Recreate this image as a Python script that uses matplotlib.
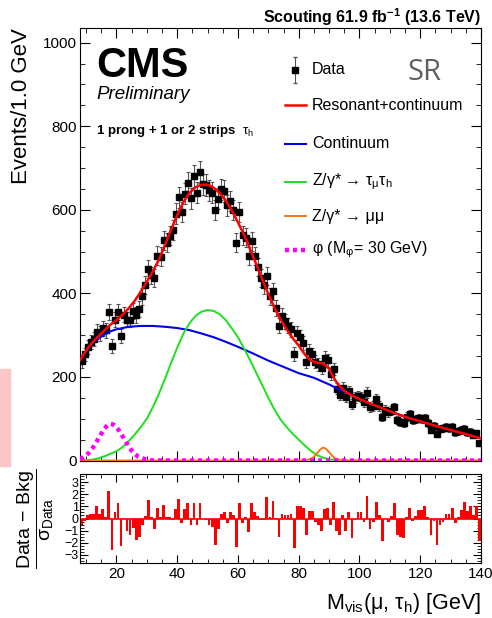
import numpy as np
import matplotlib
matplotlib.use('Agg')
import matplotlib.pyplot as plt
from matplotlib.patches import Rectangle
from matplotlib.ticker import MultipleLocator

plt.rcParams['font.family'] = ['Liberation Sans', 'DejaVu Sans']
plt.rcParams['mathtext.fontset'] = 'custom'
plt.rcParams['mathtext.rm'] = 'Liberation Sans'
plt.rcParams['mathtext.it'] = 'Liberation Sans:italic'
plt.rcParams['mathtext.bf'] = 'Liberation Sans:bold'

# data histogram, 1 GeV bins starting at 8 GeV
bin_lo = 8.0
counts = [237, 254, 272, 283, 291, 308, 304, 316, 312, 356,
          274, 337, 356, 298, 349, 337, 337, 358, 348, 363,
          393, 420, 459, 443, 437, 490, 488, 527, 521, 538,
          552, 591, 630, 595, 638, 665, 628, 681, 641, 690,
          661, 659, 647, 641, 599, 626, 649, 645, 611, 621,
          600, 521, 594, 539, 533, 489, 525, 489, 462, 437,
          420, 441, 393, 405, 365, 323, 346, 333, 322, 314,
          255, 305, 295, 282, 236, 262, 254, 236, 230, 221,
          246, 240, 206, 219, 172, 157, 174, 152, 166, 135,
          151, 155, 152, 139, 162, 127, 131, 147, 131, 104,
          122, 116, 119, 127, 96, 93, 89, 105, 111, 97,
          99, 102, 100, 101, 90, 74, 83, 63, 76, 77,
          80, 78, 80, 68, 70, 73, 76, 68, 69, 61,
          65, 41]

# (data - bkg) / sigma per bin
pulls = [-0.5, -0.2, 0.3, 0.4, 0.4, 1.0, 0.4, 0.75, 0.15, 2.3,
         -2.6, 0.55, 1.25, -2.3, 0.05, -1.0, -1.4, -0.8, -1.8, -1.5,
         -0.55, 0.2, 1.5, 0.1, -0.85, 0.9, 0.1, 1.1, 0.1, 0.1,
         -0.1, 0.75, 1.65, -0.4, 0.75, 1.3, -0.55, 1.25, -0.5, 1.25,
         0.0, -0.1, -0.55, -0.7, -2.2, -0.85, 0.35, 0.55, -0.35, 0.55,
         0.3, -2.4, 1.25, -0.4, 0.1, -1.1, 1.3, 0.55, 0.2, -0.1,
         -0.1, 1.75, 0.1, 1.45, 0.05, -1.5, 0.4, 0.3, 0.3, 0.4,
         -2.45, 1.0, 1.0, 0.85, -1.4, 0.6, 0.6, -0.3, -0.55, -1.05,
         0.8, 0.85, -0.55, 1.4, -1.0, -1.4, 0.3, -1.0, 0.5, -1.65,
         -0.1, 0.5, 0.5, -0.3, 1.9, -0.85, -0.3, 1.4, 0.3, -1.9,
         0.0, -0.3, 0.2, 1.25, -1.4, -1.5, -1.65, 0.1, 0.85, -0.2,
         0.2, 0.7, 0.7, 1.0, 0.1, -1.4, -0.2, -2.2, -0.55, -0.25,
         0.35, 0.4, 0.85, -0.4, 0.1, 0.7, 1.4, 0.6, 1.0, 0.3,
         1.0, -1.9]

# fit curves
tot_x = [8, 10, 12, 14, 16, 18, 20, 22, 24, 26, 28, 30, 32, 34, 36, 38, 40,
         42, 44, 46, 48, 50, 52, 54, 56, 58, 60, 62, 64, 66, 68, 70, 72, 74,
         76, 78, 80, 82, 83, 84, 85, 86, 87, 88, 89, 90, 91, 92, 93, 94, 95,
         96, 98, 100, 104, 108, 112, 116, 120, 124, 128, 132, 136, 140]
tot_y = [240, 263, 282, 297, 311, 325, 336, 349, 364, 382, 404, 428, 453,
         481, 516, 553, 587, 618, 640, 654, 660, 660, 653, 640, 622, 598,
         570, 540, 506, 470, 434, 398, 366, 338, 314, 293, 275, 254, 246,
         240, 236, 234, 233, 232, 227, 219, 205, 192, 182, 174, 167,
         162, 154, 147, 135, 124, 112, 102, 94, 85, 77, 69, 61, 53]

cont_x = [8, 10, 12, 14, 16, 18, 20, 22, 24, 28, 32, 36, 40, 44, 48, 52,
          56, 60, 65, 70, 75, 80, 85, 90, 95, 100, 105, 110, 115, 120, 125,
          130, 135, 140]
cont_y = [240, 262, 280, 292, 301, 309, 314, 317, 320, 322, 322, 320, 317,
          312, 304, 295, 284, 272, 256, 239, 224, 209, 198, 182, 164, 147,
          132, 118, 105, 94, 83, 73, 63, 53]

ztt_x = [8, 12, 14, 16, 18, 20, 22, 24, 26, 28, 30, 32, 34, 36, 38, 40, 42,
         44, 46, 48, 50, 52, 54, 56, 58, 60, 62, 64, 66, 68, 70, 72, 74, 76,
         78, 80, 82, 84, 86, 88, 90, 92, 94, 140]
ztt_y = [0, 2, 5, 10, 16, 22, 32, 46, 62, 80, 100, 128, 160, 196, 234, 270,
         303, 328, 346, 356, 360, 358, 350, 336, 316, 295, 268, 240, 210,
         180, 150, 122, 98, 80, 64, 50, 36, 23, 13, 7, 3, 1, 0, 0]

zmm_x = [8, 80, 82, 84, 85, 86, 87, 88, 89, 90, 91, 92, 94, 96, 140]
zmm_y = [0, 0, 0, 4, 9, 17, 26, 31, 28, 20, 11, 5, 1, 0, 0]

sig_x = [8, 9, 10, 11, 12, 13, 14, 15, 16, 17, 18, 19, 20, 21, 22, 23, 24,
         25, 26, 27, 28, 30, 32, 140]
sig_y = [4, 7, 12, 19, 28, 39, 52, 64, 76, 84, 88, 86, 80, 70, 58, 46, 34,
         24, 16, 10, 6, 2, 0, 0]

centers = bin_lo + 0.5 + np.arange(len(counts))
errs = np.sqrt(counts)

W, H = 492, 618
fig = plt.figure(figsize=(W / 100, H / 100), dpi=100)
ax = fig.add_axes([80 / W, 1 - 460.5 / H, 401 / W, 432.5 / H])
axr = fig.add_axes([80 / W, 1 - 563 / H, 401 / W, 89 / H])

ax.errorbar(centers, counts, yerr=errs, fmt='s', color='black', ms=4.2,
            ecolor='#555555', elinewidth=0.8, capsize=1.3, capthick=0.8,
            zorder=2)
ax.plot(cont_x, cont_y, color='#0000ee', lw=1.5, zorder=3)
ax.plot(ztt_x, ztt_y, color='#1ee01e', lw=1.4, zorder=3)
ax.plot(zmm_x, zmm_y, color='#f07818', lw=1.4, zorder=3)
ax.plot(sig_x, sig_y, color='#ff00ff', lw=3.2, ls=(0, (0.9, 0.9)), zorder=4)
ax.plot(tot_x, tot_y, color='#ff0000', lw=1.8, zorder=5)

ax.set_xlim(8, 140)
ax.set_ylim(0, 1035)
ax.xaxis.set_major_locator(MultipleLocator(20))
ax.xaxis.set_minor_locator(MultipleLocator(5))
ax.yaxis.set_major_locator(MultipleLocator(200))
ax.yaxis.set_minor_locator(MultipleLocator(50))
ax.tick_params(which='both', direction='in', top=True, right=True,
               labelbottom=False, labelsize=11, pad=2)
ax.tick_params(which='major', length=7)
ax.tick_params(which='minor', length=3.5)

# CMS labels
ax.text(0.04, 0.886, 'CMS', transform=ax.transAxes, fontsize=30,
        fontweight='bold')
ax.text(0.04, 0.836, 'Preliminary', transform=ax.transAxes, fontsize=13.5,
        style='italic')
ax.text(0.04, 0.755, r'1 prong + 1 or 2 strips  $\mathrm{τ_{h}}$',
        transform=ax.transAxes, fontsize=9.5, fontweight='bold')
ax.text(0.86, 0.898, 'SR', transform=ax.transAxes, fontsize=21,
        color='#606060', ha='center', va='center', family='Open Sans')

# legend
hx0, hx1, tx = 0.511, 0.564, 0.579
rows = [0.903, 0.821, 0.732, 0.644, 0.565, 0.487]
labels = ['Data', 'Resonant+continuum', 'Continuum',
          r'Z/γ* → $\mathrm{τ_{μ}τ_{h}}$', 'Z/γ* → μμ',
          r'φ (M$_{\mathrm{φ}}$= 30 GeV)']
ax.errorbar([0.537], [rows[0]], yerr=[0.03], fmt='s', color='black', ms=4.2,
            ecolor='#555555', elinewidth=0.8, capsize=1.3,
            transform=ax.transAxes)
styles = [('#ff0000', '-', 1.8), ('#0000ee', '-', 1.5), ('#1ee01e', '-', 1.4),
          ('#f07818', '-', 1.4), ('#ff00ff', (0, (0.9, 0.9)), 3.2)]
for yy, (c, ls, lw) in zip(rows[1:], styles):
    ax.plot([hx0, hx1], [yy, yy], color=c, ls=ls, lw=lw,
            transform=ax.transAxes)
for yy, lab in zip(rows, labels):
    ax.text(tx, yy, lab, transform=ax.transAxes, fontsize=11.5, va='center')

# ratio panel
axr.bar(centers, pulls, width=0.9, color='#ff0000', zorder=2)
axr.axhline(0, color='#ff0000', lw=1.2, zorder=2)
axr.set_xlim(8, 140)
axr.set_ylim(-3.7, 3.7)
axr.xaxis.set_major_locator(MultipleLocator(20))
axr.xaxis.set_minor_locator(MultipleLocator(5))
axr.yaxis.set_major_locator(MultipleLocator(1))
axr.yaxis.set_minor_locator(MultipleLocator(0.25))
axr.tick_params(which='both', direction='in', top=True, right=True)
axr.tick_params(axis='x', labelsize=11, pad=3)
axr.tick_params(axis='y', labelsize=9, pad=1)
axr.tick_params(which='major', length=6)
axr.tick_params(which='minor', length=3)

fig.text(481 / W, 1 - 17 / H,
         r'Scouting 61.9 fb$^{\mathbf{-1}}$ (13.6 TeV)',
         ha='right', va='center', fontsize=11.5, fontweight='bold')
fig.text(22 / W, 1 - 28 / H, 'Events/1.0 GeV', rotation=90, ha='center',
         va='top', fontsize=16)
fig.text(481 / W, 1 - 603 / H, r'M$_{\mathrm{vis}}$(μ, τ$_{\mathrm{h}}$) [GeV]',
         ha='right', va='center', fontsize=15.5)
fig.text(36 / W, 1 - 519 / H,
         r'$\dfrac{\mathrm{Data\,-\,Bkg}}{\mathrm{σ_{Data}}}$',
         rotation=90, ha='center', va='center', fontsize=14)

fig.patches.append(Rectangle((0, 1 - 466 / H), 10 / W, 97 / H,
                             transform=fig.transFigure, color='#fbc6c6',
                             zorder=0))

fig.savefig('out.png', dpi=100)
